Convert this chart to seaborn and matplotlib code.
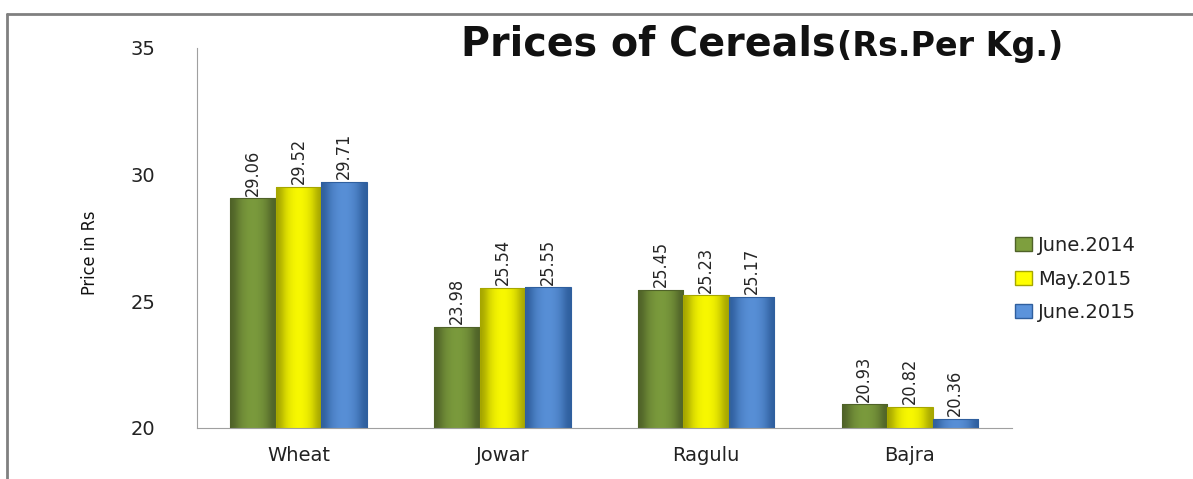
import numpy as np
import pandas as pd
import seaborn as sns
import matplotlib.pyplot as plt
from matplotlib.lines import Line2D
from matplotlib.patches import Patch
from matplotlib.colors import LinearSegmentedColormap

# Cereal prices (Rs. per Kg)
cereals = ['Wheat', 'Jowar', 'Ragulu', 'Bajra']
periods = ['June.2014', 'May.2015', 'June.2015']
june_2014 = [29.06, 23.98, 25.45, 20.93]
may_2015 = [29.52, 25.54, 25.23, 20.82]
june_2015 = [29.71, 25.55, 25.17, 20.36]
y_ticks = [20, 25, 30, 35]

colors = ['#7E9F3E', '#FFFF00', '#5B93DB']
dark = ['#4F6228', '#A6A600', '#2F5F9E']

rows = []
for name, vals in zip(periods, [june_2014, may_2015, june_2015]):
    for c, v in zip(cereals, vals):
        rows.append({'Cereal': c, 'Period': name, 'Price': v})
df = pd.DataFrame(rows)

sns.set_style('white')
plt.rcParams['font.family'] = ['DejaVu Sans']

fig = plt.figure(figsize=(11.93, 4.79), dpi=100)
ax = fig.add_axes([0.165, 0.1065, 0.683, 0.7935])

sns.barplot(data=df, x='Cereal', y='Price', hue='Period', hue_order=periods,
            palette=colors, width=0.67, ax=ax, legend=False, saturation=1,
            edgecolor='none')

narrow = dict(family=['DejaVu Sans'], fontstretch='condensed')

# shaded bevel look on each bar
for cont, col, dk in zip(ax.containers, colors, dark):
    cm = LinearSegmentedColormap.from_list('g', [dk, col])
    for p in cont.patches:
        x0, w = p.get_x(), p.get_width()
        grad = np.array([0.0, 0.6, 0.85, 0.95, 0.85, 0.6, 0.0])
        im = ax.imshow(grad[np.newaxis, :], cmap=cm, vmin=0, vmax=1,
                       extent=[x0, x0 + w, 20, p.get_height()],
                       aspect='auto', interpolation='bicubic', zorder=2)
        im.set_clip_path(p)
        p.set_edgecolor(dk)
        p.set_linewidth(0.8)
        p.set_zorder(3)
        p.set_facecolor('none')
    ax.bar_label(cont, fmt='%.2f', rotation=90, padding=2, fontsize=13, **narrow)

ax.set_xlim(-0.5, 3.5)
ax.set_ylim(20, 35)
ax.set_yticks(y_ticks)
ax.set_xticks(range(len(cereals)))
ax.set_xticklabels(cereals, fontsize=14)
ax.set_xticks([-0.5, 0.5, 1.5, 2.5, 3.5], minor=True)
ax.tick_params(axis='x', which='major', length=0, pad=13, labelcolor='#222222')
ax.tick_params(axis='x', which='minor', length=6, color='#A0A0A0', width=1)
ax.tick_params(axis='y', length=12, color='#A0A0A0', width=1, labelsize=14,
               pad=18, labelcolor='#222222')
ax.set_xlabel('')
ax.set_ylabel('Price in Rs', fontsize=13, color='#111111', **narrow)
ax.yaxis.set_label_coords(-0.12, 0.46)
for s in ['top', 'right']:
    ax.spines[s].set_visible(False)
for s in ['left', 'bottom']:
    ax.spines[s].set_color('#A0A0A0')

# title: large part plus smaller bracketed unit right after it
t1 = fig.text(0.3865, 0.884, 'Prices of Cereals', fontsize=28.5, fontweight='bold',
              family=['DejaVu Sans'], va='baseline', color='#111111')
fig.canvas.draw()
bb = t1.get_window_extent()
fig.text(bb.x1 / fig.bbox.width + 0.001, 0.884, '(Rs.Per Kg.)', fontsize=24,
         fontweight='bold', family=['DejaVu Sans'], va='baseline', color='#111111')

handles = [Patch(facecolor=c, edgecolor=d) for c, d in zip(colors, dark)]
fig.legend(handles, periods, loc='center left', bbox_to_anchor=(0.836, 0.4175),
           frameon=False, fontsize=14, handlelength=0.9, handleheight=0.7,
           handletextpad=0.3, labelspacing=0.75, labelcolor='#222222')

# outer frame (left and top edges)
fig.add_artist(Line2D([0.006, 0.006], [0.0, 0.97], color='#808080', lw=2,
                      transform=fig.transFigure))
fig.add_artist(Line2D([0.006, 1.0], [0.97, 0.97], color='#808080', lw=2,
                      transform=fig.transFigure))

fig.savefig('out.png', dpi=100)
